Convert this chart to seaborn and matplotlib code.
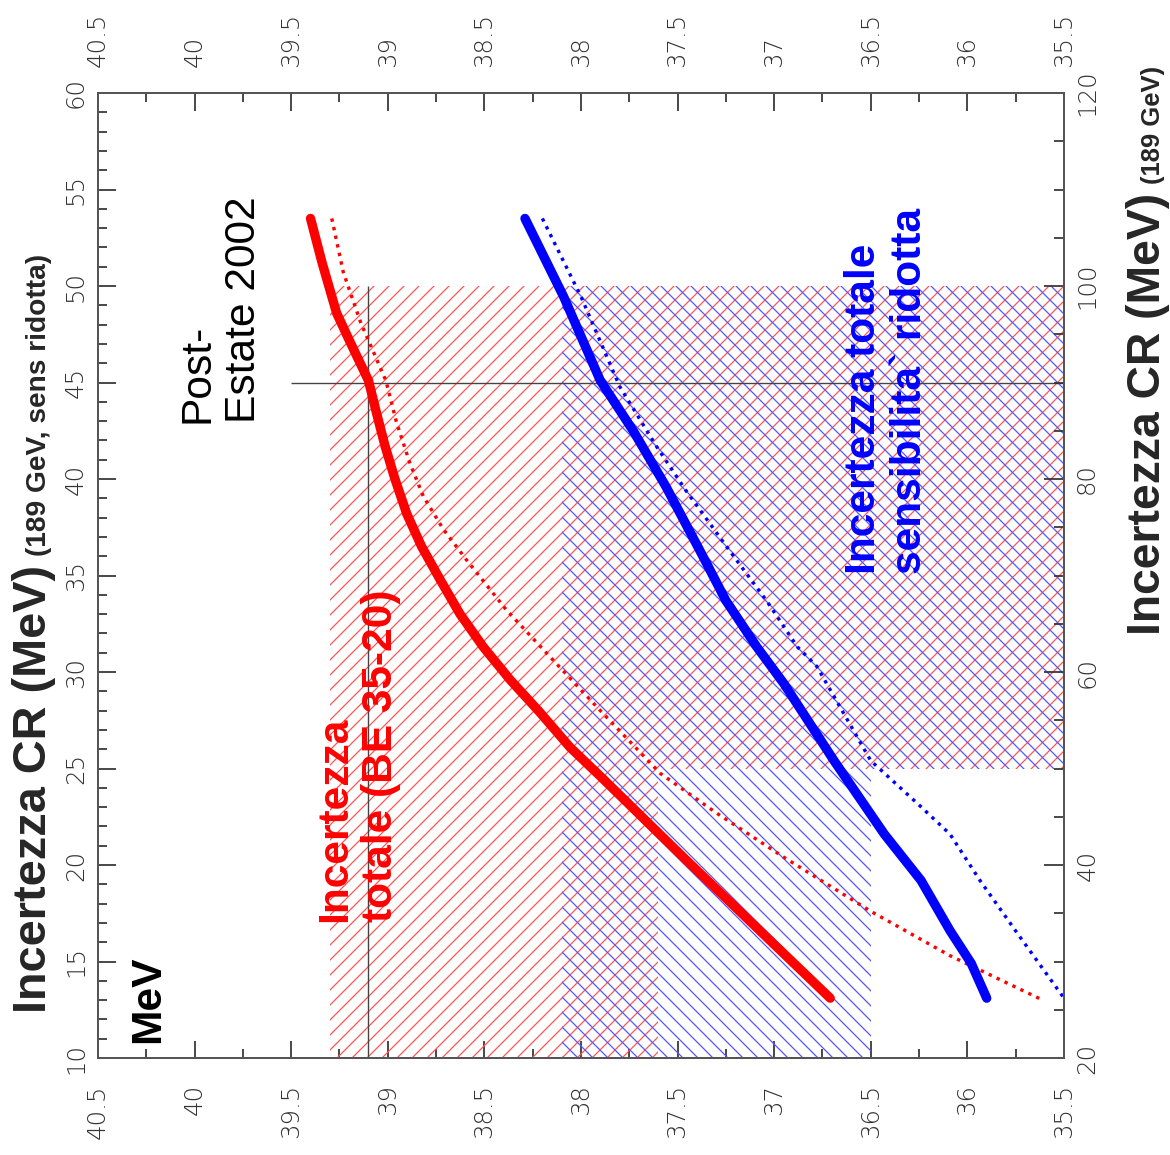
import matplotlib
matplotlib.use("Agg")
import numpy as np
import matplotlib.pyplot as plt
from matplotlib.ticker import MultipleLocator, FixedLocator
from matplotlib.collections import LineCollection
from matplotlib.transforms import IdentityTransform
import seaborn as sns

# ---------------- data ----------------
# red: total uncertainty (BE 35-20)
red_total_mev = [53.5, 51.2, 48.6, 47.2, 45.1, 43.4, 41.7, 40.0, 38.2, 36.5, 34.8,
                 33.0, 31.3, 29.6, 27.9, 26.1, 24.6, 20.3, 13.1]
red_total_val = [39.40, 39.34, 39.265, 39.20, 39.10, 39.058, 39.014, 38.963, 38.902, 38.825, 38.73,
                 38.626, 38.506, 38.367, 38.212, 38.057, 37.90, 37.46, 36.71]
red_dot_mev = [53.5, 50.7, 48.1, 45.1, 42.9, 40.8, 39.1, 37.4, 35.8, 33.2, 30.6,
               28.0, 24.75, 22.7, 20.4, 17.6, 15.3, 13.0]
red_dot_val = [39.29, 39.23, 39.14, 39.01, 38.954, 38.885, 38.816, 38.713, 38.592, 38.385, 38.143,
               37.90, 37.59, 37.30, 36.95, 36.50, 36.09, 35.61]
# blue: total uncertainty, reduced sensitivity
blue_total_mev = [53.5, 49.45, 45.1, 42.5, 39.6, 36.2, 33.7, 31.3, 29.4, 25.4, 21.6, 19.2, 16.6, 14.9, 13.1]
blue_total_val = [38.29, 38.09, 37.90, 37.73, 37.56, 37.38, 37.25, 37.09, 36.95, 36.69, 36.43, 36.24, 36.09, 35.98, 35.90]
blue_dot_mev = [53.5, 49.45, 44.8, 41.7, 39.3, 36.0, 33.7, 31.3, 30.3, 25.4, 23.2, 21.6, 19.2, 16.3, 13.1]
blue_dot_val = [38.20, 38.00, 37.80, 37.61, 37.45, 37.21, 37.04, 36.88, 36.78, 36.50, 36.26, 36.09, 35.935, 35.73, 35.50]

# hatched bands (outline corners)
red_band_val = [39.3, 35.5, 35.5, 37.6, 37.6, 39.3]
red_band_mev = [50, 50, 25, 25, 10, 10]
blue_band_val = [38.1, 35.5, 35.5, 36.5, 36.5, 38.1]
blue_band_mev = [50, 50, 25, 25, 10, 10]

# reference lines
post_val = 39.1
post_mev = 45.0
post_hline_start = 39.5
band_top = 50.0

# axes
val_ticks = [40.5, 40, 39.5, 39, 38.5, 38, 37.5, 37, 36.5, 36, 35.5]
val_labels = ["40.5", "40", "39.5", "39", "38.5", "38", "37.5", "37", "36.5", "36", "35.5"]
mev_ticks = [10, 15, 20, 25, 30, 35, 40, 45, 50, 55, 60]
mev2_ticks = [20, 40, 60, 80, 100, 120]

# ---------------- style ----------------
sns.set_style("white")
plt.rcParams["font.family"] = ["Liberation Sans", "DejaVu Sans"]

W, H, DPI = 1170, 1155, 90
fig = plt.figure(figsize=(W / DPI, H / DPI), dpi=DPI)
ax = fig.add_axes([98 / W, 97 / H, 966 / W, 965 / H])

RED = "#ff0000"
BLUE = "#0000ff"

ax.set_xlim(40.5, 35.5)
ax.set_ylim(10, 60)

# hatched regions: 45-degree lines in pixel space, clipped to the band outline
def hatch_band(xs, ys, color, rising, spacing=15.0):
    patch = ax.fill(xs, ys, facecolor="none", edgecolor="none", linewidth=0, zorder=1)[0]
    big = 3000
    segs = []
    for c in np.arange(-2 * big, 2 * big, spacing):
        if rising:
            segs.append([(-big, -big + c), (big, big + c)])
        else:
            segs.append([(-big, big + c), (big, -big + c)])
    lc = LineCollection(segs, colors=color, linewidths=1.0,
                        transform=IdentityTransform(), zorder=1)
    ax.add_collection(lc, autolim=False)
    lc.set_clip_path(patch)

hatch_band(red_band_val, red_band_mev, "#ff5555", True)
hatch_band(blue_band_val, blue_band_mev, "#5555ff", False)

# reference lines
ax.vlines(post_val, 10, band_top, color="#444444", lw=1.1, zorder=2)
ax.hlines(post_mev, post_hline_start, 35.5, color="#444444", lw=1.1, zorder=2)

dot = (0, (1, 1.6))
sns.lineplot(x=red_dot_val, y=red_dot_mev, sort=False, estimator=None, ax=ax,
             color=RED, lw=2.7, linestyle=dot, zorder=3)
sns.lineplot(x=blue_dot_val, y=blue_dot_mev, sort=False, estimator=None, ax=ax,
             color=BLUE, lw=2.7, linestyle=dot, zorder=3)
sns.lineplot(x=red_total_val, y=red_total_mev, sort=False, estimator=None, ax=ax,
             color=RED, lw=7.5, solid_capstyle="round", solid_joinstyle="round", zorder=4)
sns.lineplot(x=blue_total_val, y=blue_total_mev, sort=False, estimator=None, ax=ax,
             color=BLUE, lw=7.5, solid_capstyle="round", solid_joinstyle="round", zorder=4)

ax.set_xlim(40.5, 35.5)
ax.set_ylim(10, 60)
ax.set_xlabel("")
ax.set_ylabel("")

# ticks
TICKC = "#333333"
ax.xaxis.set_major_locator(FixedLocator(val_ticks))
ax.set_xticklabels(val_labels)
ax.xaxis.set_minor_locator(MultipleLocator(0.25))
ax.yaxis.set_major_locator(FixedLocator(mev_ticks))
ax.yaxis.set_minor_locator(MultipleLocator(1))
ax.tick_params(axis="x", which="both", direction="in", top=True, bottom=True,
               labeltop=True, labelbottom=True, color=TICKC, width=1.4)
ax.tick_params(axis="x", which="major", length=14, pad=21, labelsize=19.5,
               labelcolor=TICKC, labelrotation=90)
ax.tick_params(axis="x", which="minor", length=7)
ax.tick_params(axis="y", which="both", direction="in", left=True, right=False,
               color=TICKC, width=1.4)
ax.tick_params(axis="y", which="major", length=14, pad=8, labelsize=19.5,
               labelcolor=TICKC, labelrotation=90)
ax.tick_params(axis="y", which="minor", length=7)

ax2 = ax.twinx()
ax2.set_ylim(20, 120)
ax2.yaxis.set_major_locator(FixedLocator(mev2_ticks))
ax2.yaxis.set_minor_locator(MultipleLocator(5))
ax2.tick_params(axis="y", which="both", direction="in", right=True, left=False,
                color=TICKC, width=1.4)
ax2.tick_params(axis="y", which="major", length=16, pad=9, labelsize=19.5,
                labelcolor=TICKC, labelrotation=90)
ax2.tick_params(axis="y", which="minor", length=8)

for a in (ax, ax2):
    for s in a.spines.values():
        s.set_color("#555555")
        s.set_linewidth(1.6)

def thin(lbls):
    for t in lbls:
        t.set_fontfamily(["DejaVu Sans"])
        t.set_fontweight("light")

for tk in ax.xaxis.get_major_ticks():
    thin([tk.label1, tk.label2])
for tk in ax.yaxis.get_major_ticks():
    thin([tk.label1])
    tk.label1.set_va("center")
for tk in ax2.yaxis.get_major_ticks():
    thin([tk.label2])
    tk.label2.set_va("center")

# annotations inside the plot
ax.text(39.863, 42.9, "Post-\nEstate 2002", rotation=90, rotation_mode="anchor",
        ha="left", va="center", fontsize=34, color="black", zorder=5)
ax.text(40.24, 10.78, "MeV", rotation=90, rotation_mode="anchor",
        ha="left", va="center", fontsize=34, fontweight="bold", color="black", zorder=5)
ax.text(39.154, 17.05, "Incertezza\ntotale (BE 35-20)", rotation=90,
        rotation_mode="anchor", ha="left", va="center", fontsize=34,
        fontweight="bold", color=RED, zorder=5)
ax.text(36.416, 35.1, "Incertezza totale\nsensibilita` ridotta", rotation=90,
        rotation_mode="anchor", ha="left", va="center", fontsize=34,
        fontweight="bold", color=BLUE, zorder=5)

# axis titles made of a big and a small part
def two_part(x_px, y_px, big, small, big_size, small_size):
    inv = fig.transFigure.inverted()
    t1 = fig.text(x_px / W, y_px / H, big, rotation=90, rotation_mode="anchor",
                  ha="left", va="baseline", fontsize=big_size, fontweight="bold")
    fig.canvas.draw()
    bb = t1.get_window_extent()
    y2 = bb.y1 + 9
    fig.text(x_px / W, inv.transform((0, y2))[1], small, rotation=90,
             rotation_mode="anchor", ha="left", va="baseline",
             fontsize=small_size, fontweight="bold")

two_part(46, 1155 - 1013, "Incertezza CR (MeV)", "(189 GeV, sens ridotta)", 37.5, 22.5)
two_part(1160, 1155 - 635, "Incertezza CR (MeV)", "(189 GeV)", 37, 20.5)

fig.savefig("out.png", dpi=DPI)
